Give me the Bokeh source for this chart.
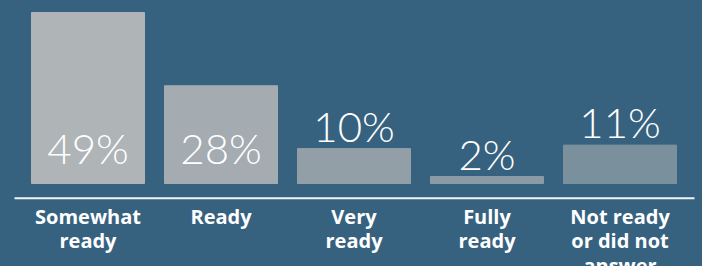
from bokeh.plotting import figure
from bokeh.models import Range1d, ColumnDataSource
from bokeh.core.properties import value
from bokeh.embed import file_html
from bokeh.resources import INLINE

categories = ["Somewhat\nready", "Ready", "Very\nready", "Fully\nready", "Not ready\nor did not\nanswer"]
values = [49, 28, 10, 2, 11]
labels = ["49%", "28%", "10%", "2%", "11%"]
colors = ["#afb4b7", "#a4abb1", "#939fa7", "#8a9ba5", "#7a909d"]

BG = "#366280"
W, H = 702, 266

x = list(range(len(values)))
px_per_unit_x = 133.0
x_start = -87.5 / px_per_unit_x
x_end = x_start + W / px_per_unit_x
ppu_y = 3.49
y_start = -83 / ppu_y
y_end = y_start + H / ppu_y

p = figure(width=W, height=H, output_backend="svg", toolbar_location=None,
           x_range=Range1d(x_start, x_end), y_range=Range1d(y_start, y_end),
           background_fill_color=BG, border_fill_color=BG, outline_line_color=None,
           min_border=0)
p.axis.visible = False
p.grid.visible = False

src = ColumnDataSource(dict(x=x, top=values, color=colors, cat=categories))
p.vbar(x="x", top="top", bottom=0, width=113 / px_per_unit_x, color="color", source=src)

# baseline
p.segment(x0=[x_start + 14 / px_per_unit_x], x1=[x_start + 694 / px_per_unit_x],
          y0=[-14.7 / ppu_y], y1=[-14.7 / ppu_y], line_color="#f2f4f6", line_width=2)

inside = [v > 20 for v in values]
ly = [36 / ppu_y if ins else v + 23 / ppu_y for v, ins in zip(values, inside)]
p.text(x=x, y=ly, text=labels, text_align="center", text_baseline="alphabetic",
       text_color="white", text_font=value("Lato Light"), text_font_size="42px")

p.text(x="x", y=-19.5 / ppu_y, text="cat", source=src, text_align="center", text_baseline="top",
       text_color="white", text_font=value("Open Sans"), text_font_style="bold",
       text_font_size="20px", text_line_height=0.9)

html = file_html(p, INLINE)
html = html.replace("</head>", "<style>html,body{margin:0;padding:0;background:%s;overflow:hidden}</style></head>" % BG, 1)
open("out.html", "w").write(html)
